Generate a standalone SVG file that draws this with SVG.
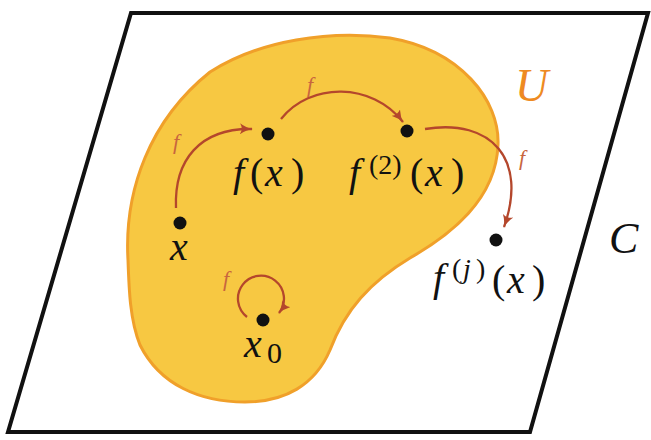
<svg xmlns="http://www.w3.org/2000/svg" width="651" height="440" viewBox="0 0 651 440">
<style>
.m{fill:#111;}
.i{font-style:italic;}
.lab{font-style:italic;fill:#C8663E;font-size:22px;}
.arr{fill:none;stroke:#B4472C;stroke-width:2.3;marker-end:url(#ah);}
.dot{fill:#111;}
</style>
<defs>
<marker id="ah" viewBox="0 0 14 11" refX="12" refY="5.5" markerWidth="14" markerHeight="11" markerUnits="userSpaceOnUse" orient="auto">
<path d="M0,0 Q6,4.5 13,5.5 Q6,6.5 0,11 Q3.5,5.5 0,0 Z" fill="#B4472C"/>
</marker>
</defs>
<rect width="651" height="440" fill="#fff"/>
<g font-family="'Liberation Serif', 'DejaVu Serif', serif">
<g id="C">
<polygon points="131,13 648,13 530,432 8,432" fill="none" stroke="#111" stroke-width="4" stroke-linejoin="miter"/>
<text class="m i" x="609" y="253" font-size="44">C</text>
</g>
<g id="U">
<path d="M128,260 C124,190 150,120 210,72 C260,40 330,30 390,38 C460,50 500,100 498,145 C496,200 450,235 410,258 C370,282 345,310 330,350 C315,385 285,402 245,402 C200,402 160,385 140,345 C130,320 129,290 128,260 Z" fill="#F7C842" stroke="#F0A02A" stroke-width="3"/>
<text class="m i" x="515" y="101" font-size="46" style="fill:#EE8A22">U</text>
</g>
<g id="connectors">
<path class="arr" d="M176,208 C174,160 200,128 252,129"/>
<path class="arr" d="M281,119 C310,82 372,82 403,122"/>
<path class="arr" d="M425,129 C492,118 528,160 504,227"/>
<path class="arr" d="M247,317 A23,23 0 1 1 279,313"/>
<text class="lab" x="173" y="149">f</text>
<text class="lab" x="307" y="92">f</text>
<text class="lab" x="519" y="165">f</text>
<text class="lab" x="223" y="286">f</text>
</g>
<g id="n-x">
<circle class="dot" cx="180" cy="223" r="6.5"/>
<text class="m i" x="170" y="260" font-size="40">x</text>
</g>
<g id="n-fx">
<circle class="dot" cx="268" cy="134" r="6.5"/>
<text class="m" y="186" font-size="40"><tspan class="i" x="233">f</tspan><tspan x="250">(</tspan><tspan class="i" x="265">x</tspan><tspan x="291">)</tspan></text>
</g>
<g id="n-f2x">
<circle class="dot" cx="407" cy="131" r="6.5"/>
<text class="m" y="186" font-size="40"><tspan class="i" x="349">f</tspan></text>
<text class="m" y="174" font-size="28"><tspan x="369">(2)</tspan></text>
<text class="m" y="186" font-size="40"><tspan x="410">(</tspan><tspan class="i" x="425">x</tspan><tspan x="451">)</tspan></text>
</g>
<g id="n-fjx">
<circle class="dot" cx="496" cy="240" r="6.5"/>
<text class="m" y="291" font-size="40"><tspan class="i" x="433">f</tspan></text>
<text class="m" y="278" font-size="28"><tspan x="452">(</tspan><tspan class="i" x="463">j</tspan><tspan x="476">)</tspan></text>
<text class="m" y="293" font-size="40"><tspan x="492">(</tspan><tspan class="i" x="507">x</tspan><tspan x="532">)</tspan></text>
</g>
<g id="n-x0">
<circle class="dot" cx="263" cy="320" r="6.5"/>
<text class="m" y="357" font-size="40"><tspan class="i" x="244">x</tspan></text>
<text class="m" y="363" font-size="30"><tspan x="267">0</tspan></text>
</g>
</g>
</svg>
